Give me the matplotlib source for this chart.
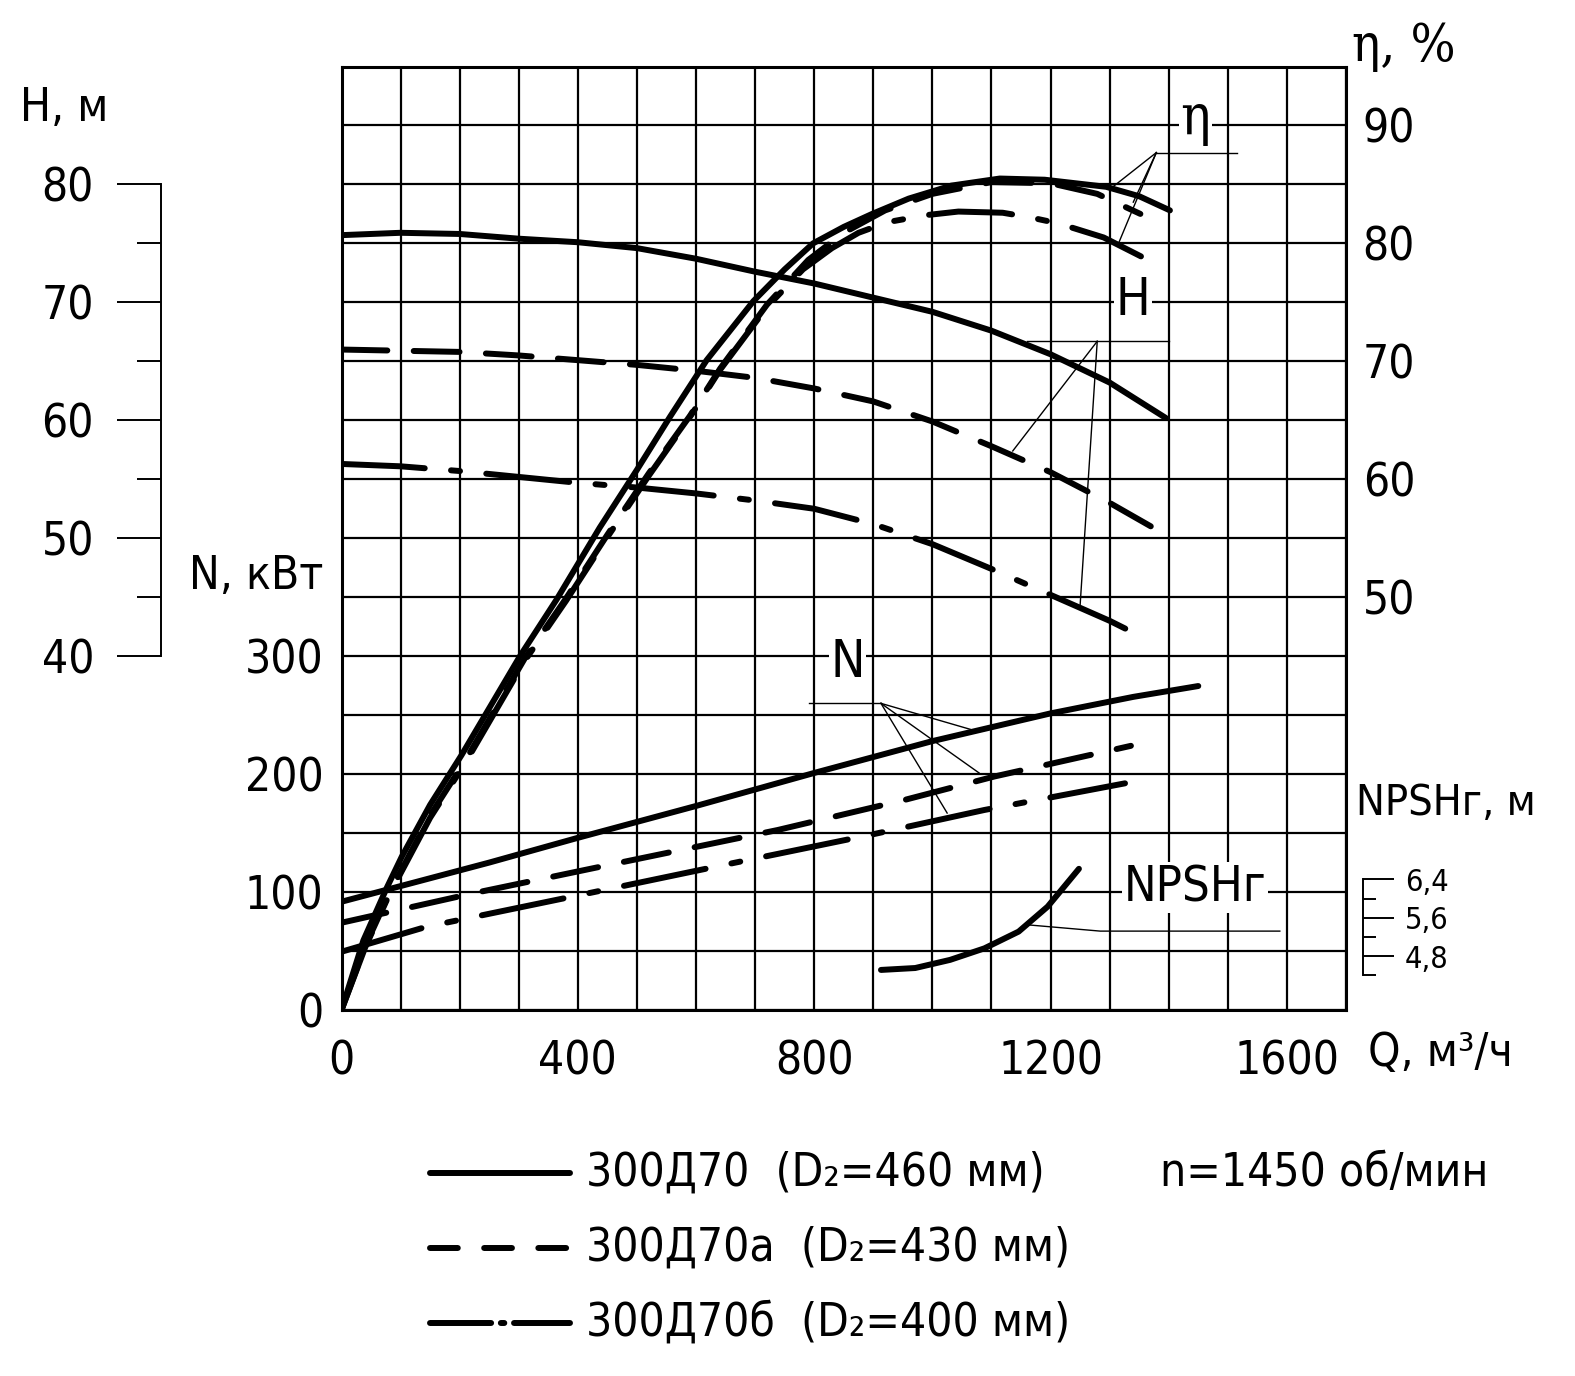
import numpy as np
import matplotlib
matplotlib.use('Agg')
from matplotlib import pyplot as plt
from matplotlib.lines import Line2D

plt.rcParams['font.family'] = ['DejaVu Sans']
plt.rcParams['font.stretch'] = 'condensed'
plt.rcParams['lines.scale_dashes'] = False

W, HP = 1575, 1376

# --- head H(Q), m
Q_H460 = [0, 100, 200, 300, 400, 500, 600, 700, 800, 900, 1000, 1100, 1200, 1300, 1395]
H_460 = [75.7, 75.9, 75.8, 75.4, 75.1, 74.6, 73.7, 72.6, 71.6, 70.4, 69.2, 67.6, 65.6, 63.2, 60.2]
Q_H430 = [0, 100, 200, 300, 400, 500, 600, 700, 800, 900, 1000, 1100, 1200, 1300, 1370]
H_430 = [66.0, 65.9, 65.8, 65.5, 65.1, 64.7, 64.2, 63.6, 62.7, 61.6, 59.9, 57.8, 55.6, 53.0, 51.0]
Q_H400 = [0, 100, 200, 300, 400, 500, 600, 700, 800, 900, 1000, 1100, 1200, 1300, 1340]
H_400 = [56.3, 56.1, 55.7, 55.2, 54.7, 54.3, 53.8, 53.2, 52.5, 51.2, 49.5, 47.4, 45.2, 43.0, 42.0]

# --- efficiency, %
Q_E460 = [0, 37, 77, 102, 150, 203, 302, 364, 437, 500, 556, 618, 697, 750, 798, 850, 898,
          960, 1032, 1114, 1190, 1294, 1350, 1402]
E_460 = [15, 20.9, 25.4, 28.0, 32.4, 36.6, 45.0, 49.8, 55.9, 60.8, 65.3, 70.1, 75.1, 77.8, 80.0, 81.4, 82.5,
         83.8, 84.9, 85.5, 85.4, 84.8, 84.0, 82.8]
Q_E430 = [0, 40, 80, 150, 210, 310, 380, 450, 520, 590, 641, 720, 790, 850, 920, 1000, 1100, 1200, 1279, 1352]
E_430 = [15, 20.4, 24.8, 31.5, 36.2, 44.8, 49.9, 55.3, 60.5, 65.4, 69.4, 74.8, 78.6, 80.9, 82.8, 84.2, 85.2,
         85.1, 84.2, 82.5]
Q_E400 = [0, 40, 80, 150, 210, 310, 380, 450, 520, 590, 641, 720, 781, 830, 875, 924, 990, 1044, 1119,
          1166, 1213, 1290, 1353]
E_400 = [15, 20.3, 24.7, 31.3, 36.0, 44.6, 49.7, 55.1, 60.3, 65.3, 69.3, 74.6, 77.8, 79.6, 80.9, 81.8, 82.4,
         82.7, 82.6, 82.2, 81.7, 80.5, 78.9]

# --- power N, kW
Q_N460 = [0, 250, 400, 600, 800, 1000, 1200, 1340, 1450]
N_460 = [91.8, 125, 146, 173, 201, 228, 251.5, 265.5, 274.7]
Q_N430 = [0, 223, 466, 738, 952, 1105, 1336]
N_430 = [74, 99, 124.4, 152.6, 178, 198, 224]
Q_N400 = [0, 144, 418, 661, 894, 1088, 1326]
N_400 = [49.4, 70.6, 99, 124.4, 148.4, 169.6, 192.2]

# --- NPSHr, m
Q_NP = [913, 971, 1030, 1088, 1146, 1195, 1248]
NPSH = [4.51, 4.55, 4.72, 4.96, 5.31, 5.83, 6.62]

Q_TICKS = [0, 400, 800, 1200, 1600]
N_TICKS = [0, 100, 200, 300]
H_TICKS = [40, 50, 60, 70, 80]
E_TICKS = [50, 60, 70, 80, 90]
NP_TICKS = [4.8, 5.6, 6.4]
NP_LABELS = ['4,8', '5,6', '6,4']

LEGEND = ['300Д70  (D₂=460 мм)', '300Д70а  (D₂=430 мм)', '300Д70б  (D₂=400 мм)']

LW = 4.3
SOLID = dict(color='black', lw=LW, solid_capstyle='round', solid_joinstyle='round')
DASHED = dict(color='black', lw=LW, linestyle=(0, (33, 19)), dash_capstyle='round')
DASHDOT = dict(color='black', lw=LW, linestyle=(0, (60, 19, 6.5, 19)), dash_capstyle='round')
DASHED_KEY = dict(color='black', lw=LW, linestyle=(0, (20, 19)), dash_capstyle='round')
DASHDOT_KEY = dict(color='black', lw=LW, linestyle=(0, (44, 7, 2.5, 7)), dash_capstyle='round')
THIN = dict(color='black', lw=1.0)
FS = 33
SERIF = ['DejaVu Serif', 'DejaVu Sans']


def fx(x):
    return x / W


def fy(y):
    return 1 - y / HP


fig = plt.figure(figsize=(W / 100, HP / 100), dpi=100)
ax = fig.add_axes([fx(341.5), fy(1010), fx(1346) - fx(341.5), fy(66.5) - fy(1010)])

# main axes: Q vs N, also carries the grid
ax.set_xlim(0, 1700)
ax.set_ylim(0, 800)
ax.set_xticks(np.arange(0, 1701, 100))
ax.set_xticklabels([str(q) if q in Q_TICKS else '' for q in range(0, 1701, 100)])
ax.set_yticks(np.arange(0, 801, 50))
ax.set_yticklabels([str(n) if n in N_TICKS else '' for n in range(0, 801, 50)])
ax.tick_params(length=0, labelsize=FS)
ax.tick_params(axis='x', pad=21)
ax.tick_params(axis='y', pad=13)
ax.grid(True, color='black', lw=1.6)
ax.set_axisbelow(True)
for s in ax.spines.values():
    s.set_linewidth(2.2)

ax.plot(Q_N460, N_460, **SOLID)
ax.plot(Q_N430, N_430, **DASHED)
ax.plot(Q_N400, N_400, **DASHDOT)

# head axis, drawn as a detached scale on the left
ax_h = ax.twinx()
ax_h.set_ylim(10, 90)
ax_h.yaxis.tick_left()
for k in ['top', 'right', 'bottom']:
    ax_h.spines[k].set_visible(False)
ax_h.spines['left'].set_position(('outward', 130.2))
ax_h.spines['left'].set_bounds(40, 80)
ax_h.spines['left'].set_linewidth(1.4)
ax_h.set_yticks(H_TICKS)
ax_h.set_yticks([45, 55, 65, 75], minor=True)
ax_h.tick_params(axis='y', which='major', length=32, width=1.4, labelsize=FS, pad=16)
ax_h.tick_params(axis='y', which='minor', length=17, width=1.4)
ax_h.plot(Q_H460, H_460, **SOLID)
ax_h.plot(Q_H430, H_430, **DASHED)
ax_h.plot(Q_H400, H_400, **DASHDOT)

# efficiency axis on the right
ax_e = ax.twinx()
ax_e.set_ylim(15, 95)
for s in ax_e.spines.values():
    s.set_visible(False)
ax_e.set_yticks(E_TICKS)
ax_e.tick_params(axis='y', length=0, labelsize=FS, pad=12)
ax_e.plot(Q_E460, E_460, **SOLID)
ax_e.plot(Q_E430, E_430, **DASHED)
ax_e.plot(Q_E400, E_400, **DASHDOT)

# NPSHr small scale
ax_n = ax.twinx()
ax_n.set_ylim(3.674, 23.36)
for k in ['top', 'left', 'bottom']:
    ax_n.spines[k].set_visible(False)
ax_n.spines['right'].set_position(('outward', 12))
ax_n.spines['right'].set_bounds(4.4, 6.4)
ax_n.spines['right'].set_linewidth(1.4)
ax_n.set_yticks(NP_TICKS)
ax_n.set_yticklabels(NP_LABELS)
ax_n.set_yticks([4.4, 5.2, 6.0], minor=True)
ax_n.tick_params(axis='y', which='major', length=22.6, width=1.4, labelsize=22, pad=8)
ax_n.tick_params(axis='y', which='minor', length=9.6, width=1.4)
ax_n.plot(Q_NP, NPSH, **SOLID)

# leader lines and curve labels
box = dict(facecolor='white', edgecolor='none', pad=1)
ax_e.plot([1379, 1515], [87.7, 87.7], **THIN)
for q, e in [(1303, 84.7), (1340, 83.5), (1315, 80.0)]:
    ax_e.plot([1379, q], [87.7, e], **THIN)
ax_e.text(1445, 90.6, 'η', ha='center', va='center', fontsize=40, family=SERIF, bbox=box)

ax_h.plot([1160, 1400], [66.7, 66.7], **THIN)
for q, h in [(1136, 57.4), (1250, 44.3)]:
    ax_h.plot([1279, q], [66.7, h], **THIN)
ax_h.text(1340, 70.1, 'H', ha='center', va='center', fontsize=37, bbox=box)

ax.plot([791, 913], [260, 260], **THIN)
for q, n in [(1064, 238), (1079, 201), (1025, 167)]:
    ax.plot([913, q], [260, n], **THIN)
ax.text(856, 294, 'N', ha='center', va='center', fontsize=37, bbox=box)

ax_n.plot([1162, 1284, 1588], [5.45, 5.32, 5.32], **THIN)
ax_n.text(1444, 6.23, 'NPSHг', ha='center', va='center', fontsize=35, bbox=box)

# axis titles
fig.text(fx(20), fy(109), 'H, м', ha='left', va='center', fontsize=FS)
fig.text(fx(323), fy(577), 'N, кВт', ha='right', va='center', fontsize=FS)
fig.text(fx(1352), fy(46), 'η, %', ha='left', va='center', fontsize=38, family=SERIF)
fig.text(fx(1356), fy(803), 'NPSHг, м', ha='left', va='center', fontsize=31)
fig.text(fx(1368), fy(1054), 'Q, м³/ч', ha='left', va='center', fontsize=FS)

# legend drawn by hand
styles = [SOLID, DASHED_KEY, DASHDOT_KEY]
rows = [1173, 1248, 1323]
for st, lab, y in zip(styles, LEGEND, rows):
    fig.add_artist(Line2D([fx(430), fx(570)], [fy(y), fy(y)], transform=fig.transFigure, **st))
    fig.text(fx(586), fy(y), lab, ha='left', va='center', fontsize=FS)
fig.text(fx(1160), fy(rows[0]), 'n=1450 об/мин', ha='left', va='center', fontsize=FS)

fig.savefig('out.png', dpi=100)
